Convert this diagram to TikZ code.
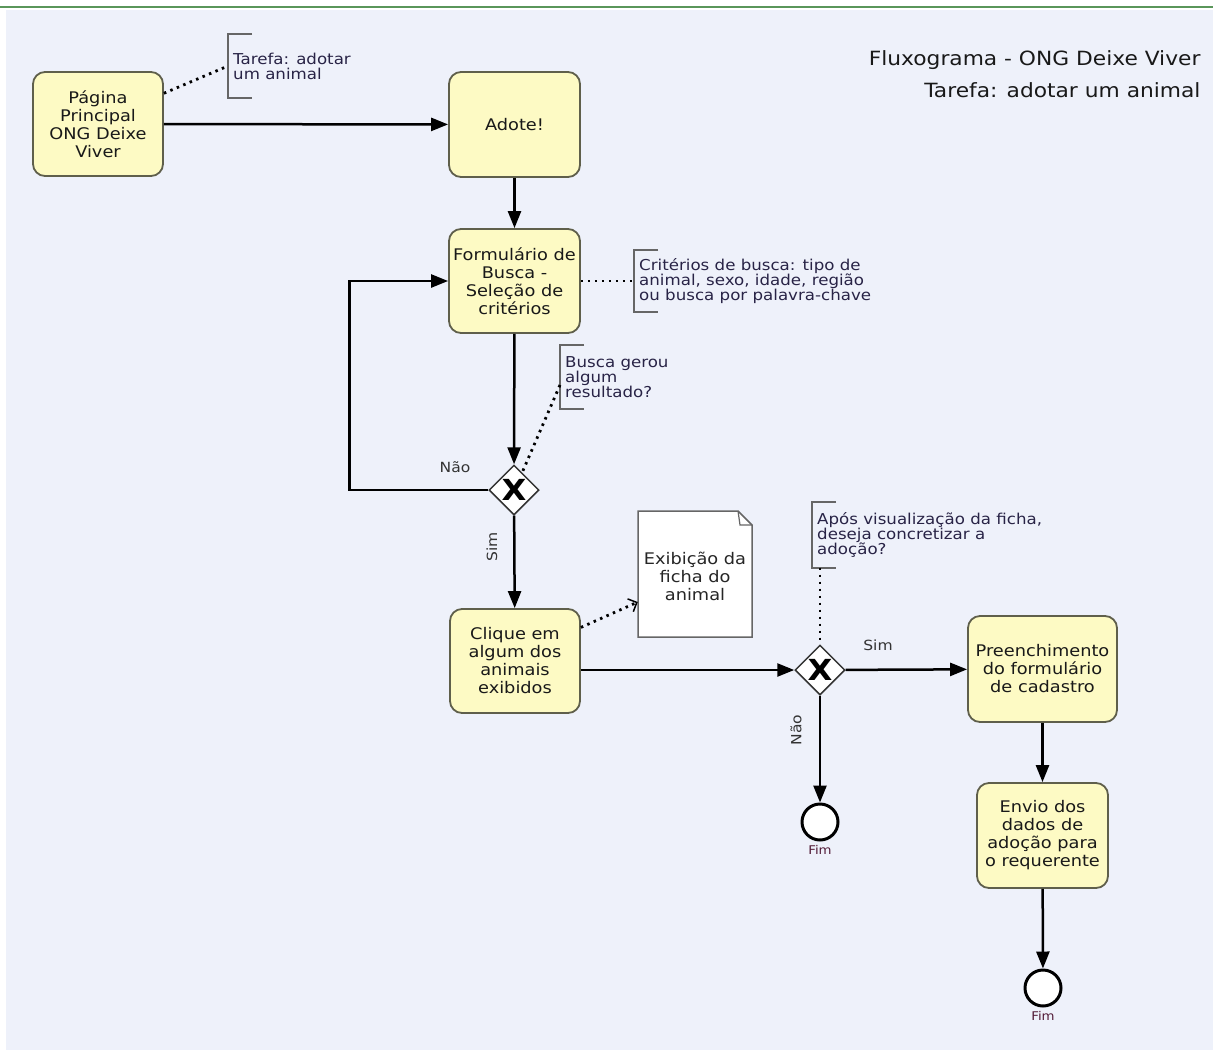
\documentclass[tikz,border=0pt]{standalone}
\usepackage{fontspec}
\setmainfont{DejaVu Sans}[FakeStretch=1.11]
\usetikzlibrary{arrows.meta,shapes.geometric}
\definecolor{fundo}{RGB}{238,241,250}
\definecolor{amarelo}{RGB}{253,250,196}
\definecolor{borda}{RGB}{95,95,75}
\definecolor{nota}{RGB}{40,35,70}
\definecolor{linha}{RGB}{90,150,90}
\tikzset{
  tarefabox/.style={draw=borda,fill=amarelo,line width=1.8pt,rounded corners=12pt,align=center,
    text=black!90,inner sep=2pt,font=\fontsize{16}{18}\selectfont},
  gateway/.style={diamond,draw=black!80,fill=white,line width=1.5pt,minimum width=50pt,
    minimum height=50pt,inner sep=0pt,font=\bfseries\fontsize{29}{29}\selectfont},
  fim/.style={circle,draw=black,fill=white,line width=3pt,minimum size=36pt,inner sep=0pt},
  fluxo/.style={line width=2.5pt,-{Triangle[length=17pt,width=13pt]}},
  pontilhado/.style={line width=2.8pt,dash pattern=on 2.5pt off 4.5pt},
  anotacao/.style={anchor=west,align=left,text=nota,inner xsep=5pt,inner ysep=0pt,
    font=\fontsize{15}{15}\selectfont},
  colchete/.style={draw=black!60,line width=1.8pt},
  rotulo/.style={text=black!80,font=\fontsize{14}{14}\selectfont},
}
\begin{document}
\begin{tikzpicture}[x=1pt,y=-1pt]
  \useasboundingbox (0,0) rectangle (1213,1050);
  \fill[fundo] (6,10) rectangle (1213,1050);
  \draw[linha,line width=1.5pt] (0,7) -- (1213,7);

  \node[anchor=north east,align=right,text=black!90,font=\fontsize{19.6}{32}\selectfont] (titulo) at (1204,47)
    {Fluxograma - ONG Deixe Viver\\Tarefa: adotar um animal};

  \node[tarefabox,minimum width=130pt,minimum height=104pt] (home) at (98,124)
    {Página\\Principal\\ONG Deixe\\Viver};
  \node[tarefabox,minimum width=131pt,minimum height=105pt] (adote) at (514.5,124.5) {Adote!};
  \node[tarefabox,minimum width=131pt,minimum height=104pt] (form) at (514.5,281)
    {Formulário de\\Busca -\\Seleção de\\critérios};
  \node[gateway] (gw1) at (514,490) {X};
  \node[tarefabox,minimum width=130pt,minimum height=104pt] (clique) at (515,661)
    {Clique em\\algum dos\\animais\\exibidos};
  \draw[black!60,fill=white,line width=1.5pt] (638,511) -- (738,511) -- (752,525) -- (752,637) -- (638,637) -- cycle;
  \draw[black!60,line width=1.2pt] (738,511) -- (740,525) -- (752,525);
  \node[minimum width=114pt,minimum height=126pt,align=center,text=black!85,
    font=\fontsize{16}{18}\selectfont] (doc) at (695,576) {Exibição da\\ficha do\\animal};
  \node[gateway] (gw2) at (820,670) {X};
  \node[tarefabox,minimum width=149pt,minimum height=106pt] (preench) at (1042.5,669)
    {Preenchimento\\do formulário\\de cadastro};
  \node[tarefabox,minimum width=131pt,minimum height=105pt] (envio) at (1042.5,835.5)
    {Envio dos\\dados de\\adoção para\\o requerente};
  \node[fim] (fim1) at (820,822) {};
  \node[fim] (fim2) at (1043,988) {};
  \node[text=nota!80!red,font=\fontsize{12}{12}\selectfont,anchor=north] at (fim1.south) {Fim};
  \node[text=nota!80!red,font=\fontsize{12}{12}\selectfont,anchor=north] at (fim2.south) {Fim};

  \node[anotacao,minimum height=64pt] (n1) at (228,66) {Tarefa: adotar\\um animal};
  \node[anotacao,minimum height=61pt] (n2) at (634,281)
    {Critérios de busca: tipo de\\animal, sexo, idade, região\\ou busca por palavra-chave};
  \node[anotacao,minimum height=64pt] (n3) at (560,377) {Busca gerou\\algum\\resultado?};
  \node[anotacao,minimum height=65pt] (n4) at (812,535)
    {Após visualização da ficha,\\deseja concretizar a\\adoção?};
  \foreach \n in {n1,n2,n3,n4}
    \draw[colchete] ([xshift=24pt]\n.north west) -| (\n.south west) -- ++(24,0);

  \draw[fluxo] (home) -- (adote);
  \draw[fluxo] (adote) -- (form);
  \draw[fluxo] (form) -- (gw1);
  \draw[fluxo] (gw1.west) -- ++(-139,0) |- (form.west);
  \draw[fluxo] (gw1) -- (clique);
  \draw[fluxo] (clique.east |- gw2.west) -- (gw2.west);
  \draw[fluxo] (gw2) -- (preench);
  \draw[fluxo] (gw2) -- (fim1);
  \draw[fluxo] (preench) -- (envio);
  \draw[fluxo] (envio) -- (fim2);

  \node[rotulo] at (455,467) {Não};
  \node[rotulo,rotate=90] at (492,547) {Sim};
  \node[rotulo] at (878,645) {Sim};
  \node[rotulo,rotate=90] at (796,730) {Não};

  \draw[pontilhado] (home.25) -- (n1.west);
  \draw[pontilhado] (form.east) -- (n2.west);
  \draw[pontilhado] ([yshift=-8pt]n3.west) -- (gw1.65);
  \draw[pontilhado,-{Straight Barb[length=7pt,width=14pt,line width=1.5pt]}] (clique.27) -- (doc.west |- 0,602);
  \draw[pontilhado] (n4.south -| gw2.north) -- (gw2.north);
\end{tikzpicture}
\end{document}
